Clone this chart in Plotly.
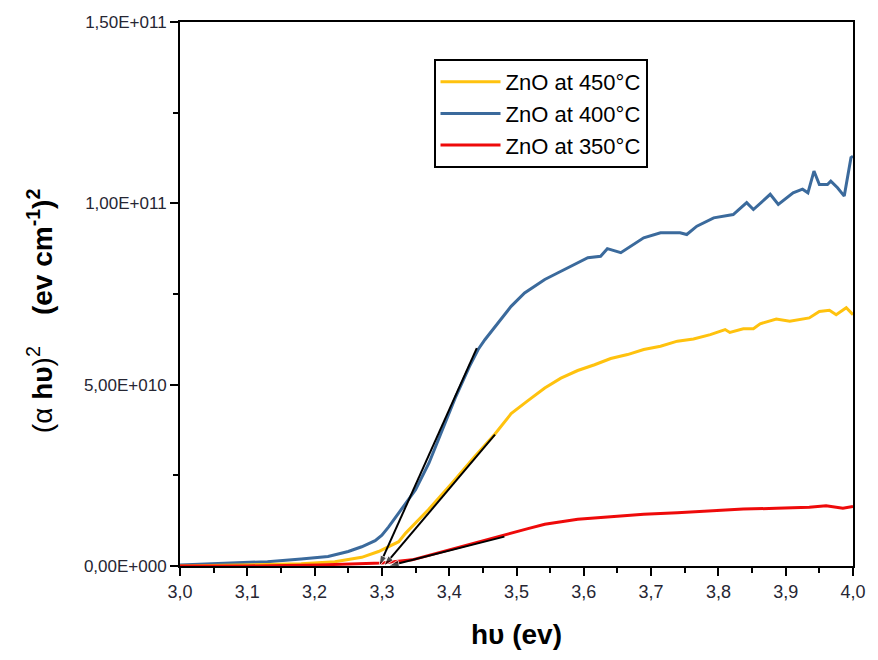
import plotly.graph_objects as go

# ---- data ----
x_400 = [3.00, 3.06, 3.13, 3.18, 3.22, 3.25, 3.27, 3.29, 3.30, 3.31, 3.325, 3.35, 3.37, 3.39, 3.41,
         3.43, 3.443, 3.453, 3.473, 3.492, 3.512, 3.542, 3.561, 3.581, 3.606, 3.625, 3.635, 3.655,
         3.675, 3.689, 3.714, 3.743, 3.753, 3.768, 3.793, 3.822, 3.842, 3.852, 3.877, 3.889, 3.911,
         3.925, 3.933, 3.942, 3.950, 3.962, 3.967, 3.977, 3.987, 3.997, 4.0]
y_400 = [0.03, 0.07, 0.12, 0.19, 0.26, 0.40, 0.53, 0.70, 0.85, 1.08, 1.45, 2.10, 2.84, 3.76, 4.68,
         5.50, 5.97, 6.24, 6.70, 7.16, 7.53, 7.90, 8.08, 8.27, 8.50, 8.54, 8.75, 8.64,
         8.87, 9.05, 9.19, 9.19, 9.14, 9.37, 9.60, 9.69, 10.02, 9.83, 10.25, 9.97, 10.29,
         10.39, 10.29, 10.89, 10.52, 10.52, 10.61, 10.43, 10.20, 11.26, 11.3]

x_450 = [3.00, 3.10, 3.18, 3.23, 3.27, 3.295, 3.325, 3.335, 3.369, 3.404, 3.438, 3.468, 3.492, 3.517,
         3.542, 3.566, 3.591, 3.616, 3.640, 3.665, 3.689, 3.714, 3.739, 3.763, 3.788, 3.810, 3.817,
         3.837, 3.852, 3.862, 3.886, 3.906, 3.935, 3.950, 3.965, 3.975, 3.990, 4.0]
y_450 = [0.0, 0.03, 0.06, 0.12, 0.24, 0.40, 0.67, 0.90, 1.55, 2.28, 3.02, 3.64, 4.20, 4.56,
         4.91, 5.18, 5.39, 5.55, 5.72, 5.83, 5.97, 6.06, 6.20, 6.26, 6.38, 6.52, 6.44,
         6.54, 6.54, 6.68, 6.81, 6.75, 6.84, 7.02, 7.05, 6.93, 7.12, 6.93]

x_350 = [3.00, 3.10, 3.207, 3.30, 3.345, 3.394, 3.443, 3.482, 3.517, 3.542, 3.591, 3.640, 3.689,
         3.739, 3.788, 3.837, 3.886, 3.935, 3.96, 3.985, 4.0]
y_350 = [0.0, 0.0, 0.03, 0.08, 0.17, 0.42, 0.65, 0.86, 1.03, 1.15, 1.29, 1.36, 1.43,
         1.47, 1.52, 1.57, 1.59, 1.62, 1.66, 1.59, 1.64]

# tangent (Tauc) lines, upper point first, intercept last
tan_400_x = [3.441, 3.296]
tan_400_y = [6.01, 0.0]
tan_450_x = [3.468, 3.303]
tan_450_y = [3.62, 0.0]
tan_350_x = [3.482, 3.310]
tan_350_y = [0.81, 0.0]

SCALE = 1e10
y_ticks = [0, 5e10, 1e11, 1.5e11]
y_ticktext = ["0,00E+000", "5,00E+010", "1,00E+011", "1,50E+011"]
x_ticks = [3.0, 3.1, 3.2, 3.3, 3.4, 3.5, 3.6, 3.7, 3.8, 3.9, 4.0]
x_ticktext = ["3,0", "3,1", "3,2", "3,3", "3,4", "3,5", "3,6", "3,7", "3,8", "3,9", "4,0"]

BLUE = "#3B6A9C"
YELLOW = "#FFC20E"
RED = "#EE0A0A"
REGULAR = "Liberation Sans, Arial, sans-serif"

fig = go.Figure()
fig.add_trace(go.Scatter(x=x_400, y=[v * SCALE for v in y_400], mode="lines",
                         line=dict(color=BLUE, width=3), name="ZnO at 400°C", legendrank=2))
fig.add_trace(go.Scatter(x=x_450, y=[v * SCALE for v in y_450], mode="lines",
                         line=dict(color=YELLOW, width=3), name="ZnO at 450°C", legendrank=1))
fig.add_trace(go.Scatter(x=x_350, y=[v * SCALE for v in y_350], mode="lines",
                         line=dict(color=RED, width=3), name="ZnO at 350°C", legendrank=3))

for tx, ty in [(tan_400_x, tan_400_y), (tan_450_x, tan_450_y), (tan_350_x, tan_350_y)]:
    fig.add_trace(go.Scatter(x=tx, y=[v * SCALE for v in ty], mode="lines+markers",
                             line=dict(color="black", width=2),
                             marker=dict(symbol="arrow", angleref="previous", size=[0, 11],
                                         color="black"),
                             showlegend=False, hoverinfo="skip"))

fig.update_layout(
    width=878, height=660,
    margin=dict(l=180, r=21, t=22, b=94),
    paper_bgcolor="white", plot_bgcolor="white",
    font=dict(family=REGULAR, color="black"),
    showlegend=True,
    legend=dict(x=0.3767, y=0.932, xanchor="left", yanchor="top",
                bordercolor="black", borderwidth=2, bgcolor="white",
                font=dict(size=22, color="black", family=REGULAR),
                tracegroupgap=0, itemwidth=60),
    xaxis=dict(range=[3.0, 4.0], tickvals=x_ticks, ticktext=x_ticktext,
               ticks="outside", ticklen=8, tickwidth=2, tickcolor="black",
               showline=True, linecolor="black", linewidth=2, mirror=True,
               showgrid=False, zeroline=False,
               tickfont=dict(family=REGULAR, size=18, color="#262633"),
               minor=dict(dtick=0.05, tick0=3.0, ticks="outside", ticklen=5,
                          tickwidth=2, tickcolor="black", showgrid=False),
               title=dict(text="<b>hυ (ev)</b>", font=dict(size=28, color="black", family=REGULAR),
                          standoff=24)),
    yaxis=dict(range=[0, 1.5e11], tickvals=y_ticks, ticktext=y_ticktext,
               ticks="outside", ticklen=8, tickwidth=2, tickcolor="black",
               showline=True, linecolor="black", linewidth=2, mirror=True,
               showgrid=False, zeroline=False,
               tickfont=dict(family=REGULAR, size=17, color="#262633"),
               minor=dict(dtick=2.5e10, tick0=0, ticks="outside", ticklen=5,
                          tickwidth=2, tickcolor="black", showgrid=False)),
    annotations=[dict(
        text="(α <b>hυ</b>)<sup>2</sup>"
             "    <b>(ev cm<sup>-1</sup>)<sup>2</sup></b>",
        textangle=-90, xref="paper", yref="paper",
        x=-0.2068, y=0.47, xanchor="center", yanchor="middle",
        showarrow=False, font=dict(family=REGULAR, size=28, color="black"))],
)

fig.write_html("out.html", config={"displayModeBar": False},
               post_script="document.body.style.margin='0';document.body.style.padding='0';")
